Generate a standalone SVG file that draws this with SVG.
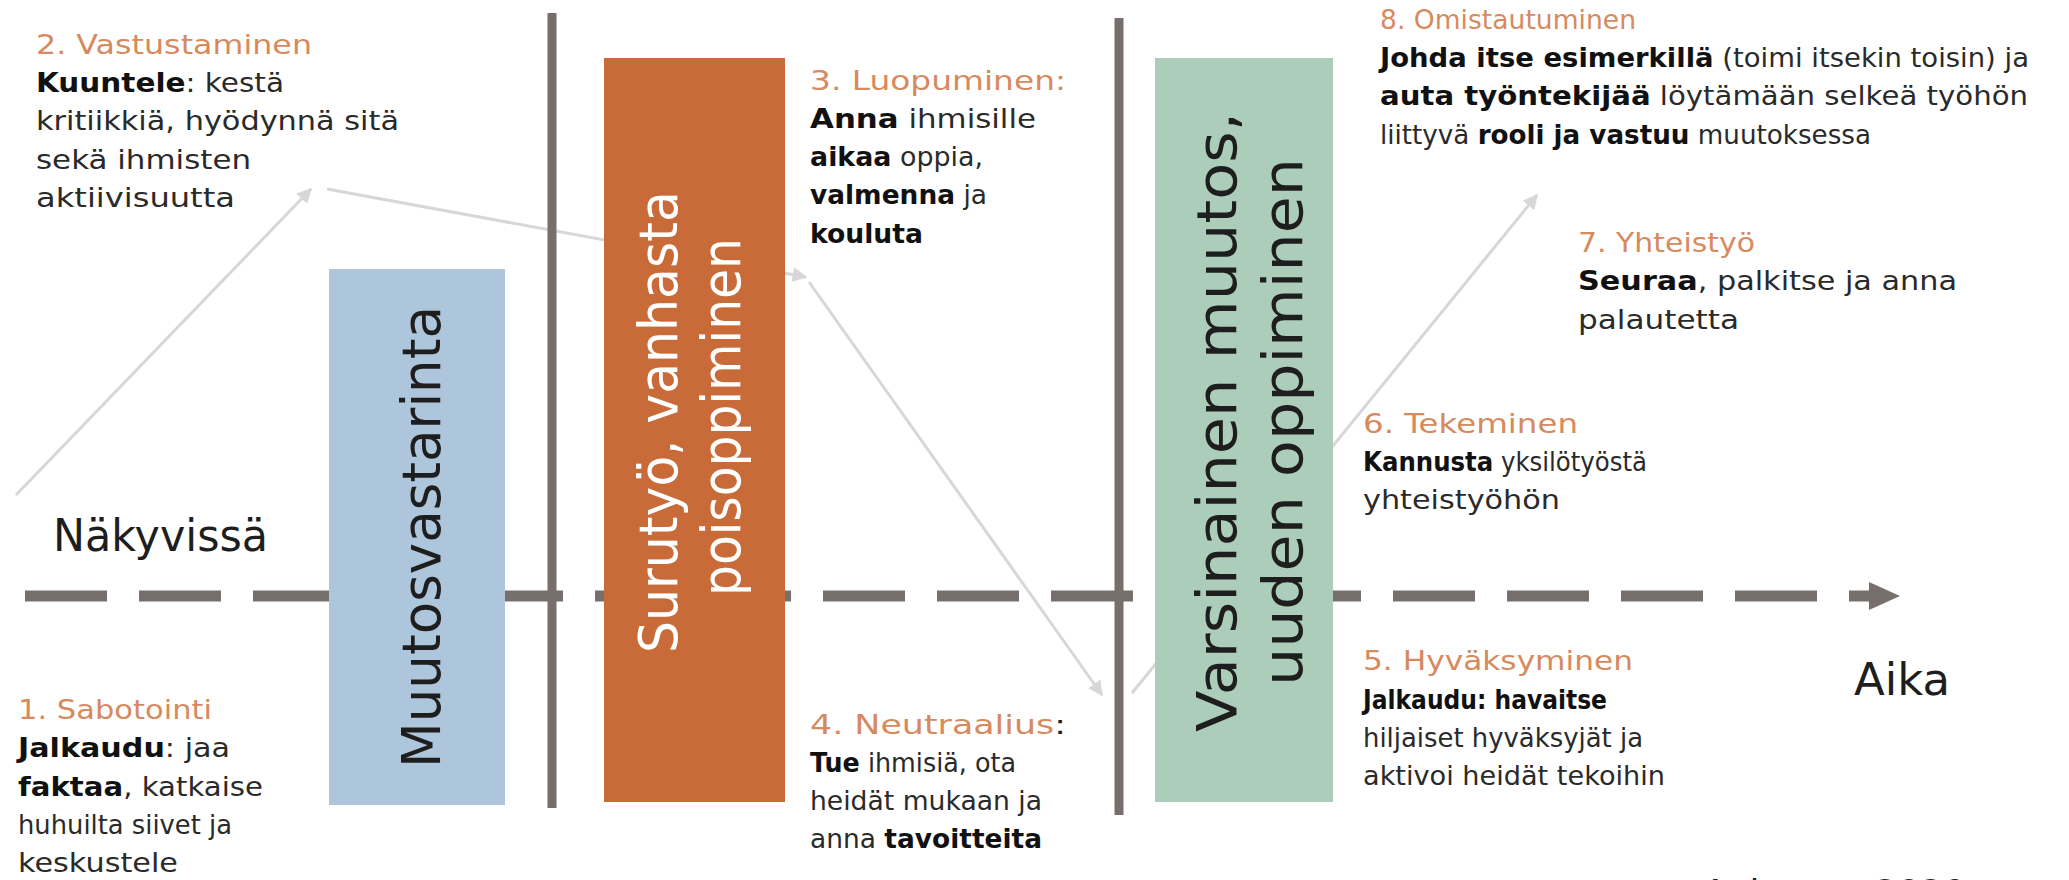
<svg xmlns="http://www.w3.org/2000/svg" width="2069" height="880" viewBox="0 0 2069 880">
<defs>
<style>
text{font-family:"DejaVu Sans","Liberation Sans",sans-serif;}
.ti{fill:#d68a5e;font-size:27px;}
.bd{fill:#2a2a2a;font-size:27px;}
.bd tspan.k{font-weight:700;fill:#111;}
.big{fill:#1e1e1e;font-size:44px;}
.rot{font-size:54px;}
.vline{stroke:#776f6c;stroke-width:9;}
.axis{stroke:#776f6c;stroke-width:11;fill:none;stroke-dasharray:82 32;}
.conn{stroke:#d7d7d7;stroke-width:3;fill:none;marker-end:url(#ah);}
</style>
<marker id="ah" viewBox="0 0 10 10" refX="9" refY="5" markerWidth="5" markerHeight="5" orient="auto" markerUnits="strokeWidth">
<path d="M0,0 L10,5 L0,10 z" fill="#d7d7d7"/>
</marker>
</defs>
<rect width="2069" height="880" fill="#ffffff"/>

<g id="connectors">
<line class="conn" x1="16" y1="495" x2="311" y2="189"/>
<line class="conn" x1="327" y1="189" x2="806" y2="277"/>
<line class="conn" x1="809" y1="282" x2="1102" y2="695"/>
<line class="conn" x1="1132" y1="693" x2="1537" y2="195"/>
</g>

<g id="axis">
<line class="axis" x1="25" y1="596" x2="1872" y2="596"/>
<polygon points="1869,582 1900,596 1869,610" fill="#776f6c"/>
</g>

<g id="dividers">
<line class="vline" x1="552" y1="13" x2="552" y2="808"/>
<line class="vline" x1="1119" y1="18" x2="1119" y2="815"/>
</g>

<g id="phase-muutosvastarinta">
<rect x="329" y="269" width="176" height="536" fill="#adc6dc"/>
<text class="rot" fill="#1e1e1e" transform="translate(440,537) rotate(-90)" text-anchor="middle" textLength="462" lengthAdjust="spacingAndGlyphs">Muutosvastarinta</text>
</g>

<g id="phase-surutyo">
<rect x="604" y="58" width="181" height="744" fill="#c96b39"/>
<text class="rot" fill="#ffffff" transform="translate(677,422) rotate(-90)" text-anchor="middle" textLength="462" lengthAdjust="spacingAndGlyphs">Surutyö, vanhasta</text>
<text class="rot" fill="#ffffff" transform="translate(740,417) rotate(-90)" text-anchor="middle" textLength="358" lengthAdjust="spacingAndGlyphs">poisoppiminen</text>
</g>

<g id="phase-varsinainen">
<rect x="1155" y="58" width="178" height="744" fill="#accdb9"/>
<text class="rot" fill="#1e1e1e" transform="translate(1236,422) rotate(-90)" text-anchor="middle" textLength="620" lengthAdjust="spacingAndGlyphs" style="font-size:56px">Varsinainen muutos,</text>
<text class="rot" fill="#1e1e1e" transform="translate(1302,422) rotate(-90)" text-anchor="middle" textLength="528" lengthAdjust="spacingAndGlyphs" style="font-size:56px">uuden oppiminen</text>
</g>

<g id="label-nakyvissa">
<text class="big" x="53" y="551" textLength="215" lengthAdjust="spacingAndGlyphs">Näkyvissä</text>
</g>
<g id="label-aika">
<text class="big" x="1854" y="695" textLength="96" lengthAdjust="spacingAndGlyphs">Aika</text>
</g>

<g id="stage-1">
<text class="ti" x="18" y="719" textLength="194" lengthAdjust="spacingAndGlyphs">1. Sabotointi</text>
<text class="bd" x="18" y="757" textLength="212" lengthAdjust="spacingAndGlyphs"><tspan class="k">Jalkaudu</tspan>: jaa</text>
<text class="bd" x="18" y="796" textLength="245" lengthAdjust="spacingAndGlyphs"><tspan class="k">faktaa</tspan>, katkaise</text>
<text class="bd" x="18" y="834" textLength="214" lengthAdjust="spacingAndGlyphs">huhuilta siivet ja</text>
<text class="bd" x="18" y="872" textLength="160" lengthAdjust="spacingAndGlyphs">keskustele</text>
</g>

<g id="stage-2">
<text class="ti" x="36" y="54" textLength="276" lengthAdjust="spacingAndGlyphs">2. Vastustaminen</text>
<text class="bd" x="36" y="92" textLength="248" lengthAdjust="spacingAndGlyphs"><tspan class="k">Kuuntele</tspan>: kestä</text>
<text class="bd" x="36" y="130" textLength="363" lengthAdjust="spacingAndGlyphs">kritiikkiä, hyödynnä sitä</text>
<text class="bd" x="36" y="169" textLength="215" lengthAdjust="spacingAndGlyphs">sekä ihmisten</text>
<text class="bd" x="36" y="207" textLength="199" lengthAdjust="spacingAndGlyphs">aktiivisuutta</text>
</g>

<g id="stage-3">
<text class="ti" x="810" y="90" textLength="256" lengthAdjust="spacingAndGlyphs">3. Luopuminen:</text>
<text class="bd" x="810" y="128" textLength="226" lengthAdjust="spacingAndGlyphs"><tspan class="k">Anna</tspan> ihmisille</text>
<text class="bd" x="810" y="166" textLength="173" lengthAdjust="spacingAndGlyphs"><tspan class="k">aikaa</tspan> oppia,</text>
<text class="bd" x="810" y="204" textLength="177" lengthAdjust="spacingAndGlyphs"><tspan class="k">valmenna</tspan> ja</text>
<text class="bd" x="810" y="243" textLength="113" lengthAdjust="spacingAndGlyphs"><tspan class="k">kouluta</tspan></text>
</g>

<g id="stage-4">
<text class="ti" x="810" y="734" textLength="256" lengthAdjust="spacingAndGlyphs">4. Neutraalius<tspan fill="#1e1e1e">:</tspan></text>
<text class="bd" x="810" y="772" textLength="206" lengthAdjust="spacingAndGlyphs"><tspan class="k">Tue</tspan> ihmisiä, ota</text>
<text class="bd" x="810" y="810" textLength="232" lengthAdjust="spacingAndGlyphs">heidät mukaan ja</text>
<text class="bd" x="810" y="848" textLength="232" lengthAdjust="spacingAndGlyphs">anna <tspan class="k">tavoitteita</tspan></text>
</g>

<g id="stage-5">
<text class="ti" x="1363" y="670" textLength="270" lengthAdjust="spacingAndGlyphs">5. Hyväksyminen</text>
<text class="bd" x="1363" y="709" textLength="244" lengthAdjust="spacingAndGlyphs"><tspan class="k">Jalkaudu: havaitse</tspan></text>
<text class="bd" x="1363" y="747" textLength="280" lengthAdjust="spacingAndGlyphs">hiljaiset hyväksyjät ja</text>
<text class="bd" x="1363" y="785" textLength="302" lengthAdjust="spacingAndGlyphs">aktivoi heidät tekoihin</text>
</g>

<g id="stage-6">
<text class="ti" x="1363" y="433" textLength="215" lengthAdjust="spacingAndGlyphs">6. Tekeminen</text>
<text class="bd" x="1363" y="471" textLength="284" lengthAdjust="spacingAndGlyphs"><tspan class="k">Kannusta</tspan> yksilötyöstä</text>
<text class="bd" x="1363" y="509" textLength="197" lengthAdjust="spacingAndGlyphs">yhteistyöhön</text>
</g>

<g id="stage-7">
<text class="ti" x="1578" y="252" textLength="177" lengthAdjust="spacingAndGlyphs">7. Yhteistyö</text>
<text class="bd" x="1578" y="290" textLength="379" lengthAdjust="spacingAndGlyphs"><tspan class="k">Seuraa</tspan>, palkitse ja anna</text>
<text class="bd" x="1578" y="329" textLength="161" lengthAdjust="spacingAndGlyphs">palautetta</text>
</g>

<g id="stage-8">
<text class="ti" x="1380" y="29" textLength="256" lengthAdjust="spacingAndGlyphs">8. Omistautuminen</text>
<text class="bd" x="1380" y="67" textLength="649" lengthAdjust="spacingAndGlyphs"><tspan class="k">Johda itse esimerkillä</tspan> (toimi itsekin toisin) ja</text>
<text class="bd" x="1380" y="105" textLength="648" lengthAdjust="spacingAndGlyphs"><tspan class="k">auta työntekijää</tspan> löytämään selkeä työhön</text>
<text class="bd" x="1380" y="144" textLength="491" lengthAdjust="spacingAndGlyphs">liittyvä <tspan class="k">rooli ja vastuu</tspan> muutoksessa</text>
</g>

<g id="source">
<text x="1703" y="904" style="font-size:34px;fill:#1e1e1e" textLength="263" lengthAdjust="spacingAndGlyphs">Aaltonen 2020</text>
</g>
</svg>
